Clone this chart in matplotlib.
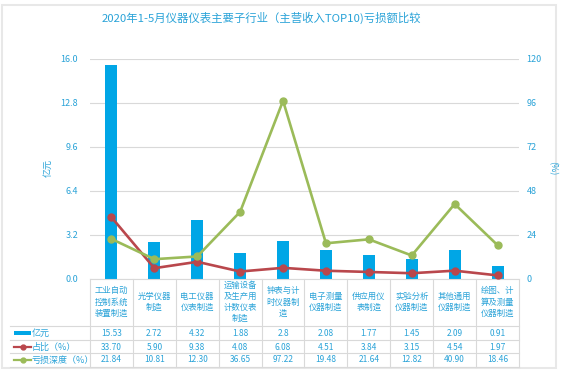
import matplotlib
matplotlib.use('Agg')
import matplotlib.pyplot as plt
from matplotlib.transforms import blended_transform_factory
from matplotlib.patches import Rectangle
from matplotlib.lines import Line2D

plt.rcParams['font.family'] = ['Noto Sans CJK SC', 'DejaVu Sans']

# 数据
categories = ['工业自动\n控制系统\n装置制造', '光学仪器\n制造', '电工仪器\n仪表制造',
              '运输设备\n及生产用\n计数仪表\n制造', '钟表与计\n时仪器制\n造', '电子测量\n仪器制造',
              '供应用仪\n表制造', '实验分析\n仪器制造', '其他通用\n仪器制造', '绘图、计\n算及测量\n仪器制造']
loss_yi = [15.53, 2.72, 4.32, 1.88, 2.8, 2.08, 1.77, 1.45, 2.09, 0.91]
share_pct = [33.70, 5.90, 9.38, 4.08, 6.08, 4.51, 3.84, 3.15, 4.54, 1.97]
depth_pct = [21.84, 10.81, 12.30, 36.65, 97.22, 19.48, 21.64, 12.82, 40.90, 18.46]
loss_txt = ['15.53', '2.72', '4.32', '1.88', '2.8', '2.08', '1.77', '1.45', '2.09', '0.91']
share_txt = ['%.2f' % v for v in share_pct]
depth_txt = ['%.2f' % v for v in depth_pct]
row_names = ['亿元', '占比（%）', '亏损深度（%）']

blue = '#00a6e6'
red = '#b9474c'
green = '#9bbb59'
txt_blue = '#2aa3d8'
grid_c = '#d9d9d9'

W, H = 562, 370
fig = plt.figure(figsize=(W / 100, H / 100), dpi=100)
fig.patch.set_facecolor('white')

# 外框
fig.patches.append(Rectangle((2 / W, 2 / H), 554 / W, 363 / H, transform=fig.transFigure,
                             facecolor='none', edgecolor='#e8e8e8', lw=1.5))

x0, x1 = 90, 519
ytop, ybot = 59, 279
ax = fig.add_axes([x0 / W, (H - ybot) / H, (x1 - x0) / W, (ybot - ytop) / H])
ax2 = ax.twinx()

x = list(range(len(categories)))
ax.bar(x, loss_yi, width=0.28, color=blue, zorder=2)
ax.set_ylim(0, 16.0)
ax.set_yticks([0, 3.2, 6.4, 9.6, 12.8, 16.0])
ax.set_yticklabels(['0.0', '3.2', '6.4', '9.6', '12.8', '16.0'])
ax.set_xlim(-0.5, len(categories) - 0.5)
ax.set_xticks([])
ax.grid(axis='y', color=grid_c, lw=0.8)
ax.set_axisbelow(True)

ax2.plot(x, share_pct, color=red, lw=1.9, marker='o', ms=5, zorder=3)
ax2.plot(x, depth_pct, color=green, lw=1.9, marker='o', ms=5, zorder=3)
ax2.set_ylim(0, 120)
ax2.set_yticks([0, 24, 48, 72, 96, 120])

for a in (ax, ax2):
    for s in a.spines.values():
        s.set_visible(False)
    a.tick_params(length=0, labelsize=6.5, colors=txt_blue)
ax.tick_params(axis='y', pad=8.5)
ax2.tick_params(axis='y', pad=5.5)
ax.spines['bottom'].set_visible(True)
ax.spines['bottom'].set_color(grid_c)

fig.text(48 / W, 1 - 168 / H, '亿元', rotation=90, ha='center', va='center',
         fontsize=6.5, color=txt_blue)
fig.text(552 / W, 1 - 168 / H, '(%)', rotation=270, ha='center', va='center',
         fontsize=6.5, color=txt_blue)
fig.text(261 / W, 1 - 18 / H, '2020年1-5月仪器仪表主要子行业（主营收入TOP10)亏损额比较',
         ha='center', va='center', fontsize=8.2, color=txt_blue)

# 数据表
tr = blended_transform_factory(ax.transData, fig.transFigure)
def fy(py):
    return 1 - py / H

line_kw = dict(color='#d9d9d9', lw=0.8)
row_y = [326, 340, 353, 367]
for i in range(len(categories) + 1):
    fig.add_artist(Line2D([i - 0.5, i - 0.5], [fy(ybot), fy(367)], transform=tr, **line_kw))
for yy in row_y:
    fig.add_artist(Line2D([10 / W, x1 / W], [fy(yy), fy(yy)], transform=fig.transFigure, **line_kw))

for i, c in enumerate(categories):
    fig.text(i, fy(302), c, transform=tr, ha='center', va='center', fontsize=6,
             color=txt_blue, linespacing=1.3)
    fig.text(i, fy(333), loss_txt[i], transform=tr, ha='center', va='center', fontsize=6, color=txt_blue)
    fig.text(i, fy(347), share_txt[i], transform=tr, ha='center', va='center', fontsize=6, color=txt_blue)
    fig.text(i, fy(360), depth_txt[i], transform=tr, ha='center', va='center', fontsize=6, color=txt_blue)

# 行标签和图例键
fig.patches.append(Rectangle((14 / W, fy(335)), 17 / W, 4 / H, transform=fig.transFigure,
                             facecolor=blue, edgecolor='none'))
fig.add_artist(Line2D([14 / W, 22.5 / W, 31 / W], [fy(347)] * 3, transform=fig.transFigure,
                      color=red, lw=1.6, marker='o', ms=3.5, markevery=[1]))
fig.add_artist(Line2D([14 / W, 22.5 / W, 31 / W], [fy(360)] * 3, transform=fig.transFigure,
                      color=green, lw=1.6, marker='o', ms=3.5, markevery=[1]))
for name, yy in zip(row_names, [333, 347, 360]):
    fig.text(32 / W, fy(yy), name, ha='left', va='center', fontsize=6.5, color=txt_blue)

fig.savefig('out.png', dpi=100)
